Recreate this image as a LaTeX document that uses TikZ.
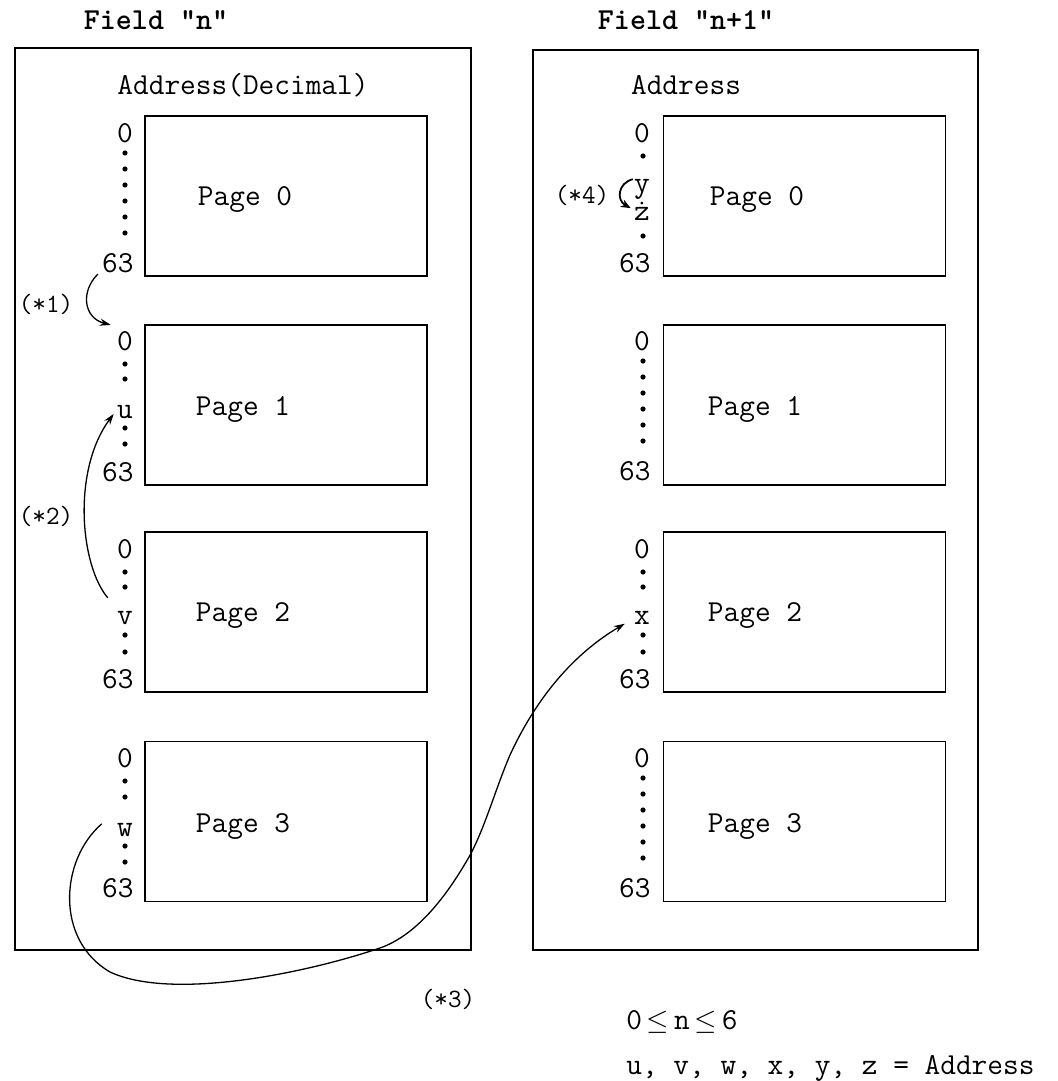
\documentclass[tikz,border=0pt]{standalone}
\usetikzlibrary{arrows.meta}
\begin{document}
\begin{tikzpicture}[x=0.5pt,y=-0.5pt,
  txt/.style={font=\fontsize{15.24}{18}\selectfont\ttfamily, inner sep=0pt, anchor=mid, yshift=-2.5pt},
  smalltxt/.style={font=\fontsize{13.2}{15}\selectfont\ttfamily, inner sep=0pt, anchor=mid, yshift=-2.5pt},
  titletxt/.style={font=\fontsize{15.24}{18}\selectfont\ttfamily\bfseries, inner sep=0pt, anchor=mid, yshift=-2.5pt},
  addrr/.style={txt, anchor=mid east},
  frame/.style={draw, line width=0.7pt, inner sep=0pt},
  pagebox/.style={draw, line width=0.85pt, minimum width=141pt, minimum height=80pt, inner sep=0pt},
  conn/.style={line width=0.65pt, -{Stealth[length=5.5pt,width=3.6pt]}},
  heavyconn/.style={line width=0.9pt, -{Stealth[length=5pt,width=4pt]}},
]
\useasboundingbox (0,0) rectangle (1057,1081);

% titles
\node[titletxt] (fn)  at (156,20) {Field "n"};
\node[titletxt] (fn1) at (686,20) {Field "n+1"};

% outer frames
\node[frame, minimum width=228pt, minimum height=451pt] (fieldn)  at (243,499) {};
\node[frame, minimum width=222.5pt, minimum height=450pt] (fieldn1) at (755.5,500) {};

\node[txt] (addrdec) at (243,85) {Address(Decimal)};
\node[txt] (addr)    at (686,85) {Address};

% page boxes
\node[pagebox] (lp0) at (286,196) {};
\node[pagebox] (lp1) at (286,405) {};
\node[pagebox] (lp2) at (286,612) {};
\node[pagebox] (lp3) at (286,821.5) {};
\node[pagebox] (rp0) at (804.5,196) {};
\node[pagebox] (rp1) at (804.5,405) {};
\node[pagebox] (rp2) at (804.5,612) {};
\node[pagebox] (rp3) at (804.5,821.5) {};

% page labels
\node[txt] (lt0) at (245,196) {Page 0};
\node[txt] (lt1) at (243,406) {Page 1};
\node[txt] (lt2) at (243,612) {Page 2};
\node[txt] (lt3) at (243,823) {Page 3};
\node[txt] (rt0) at (757,196) {Page 0};
\node[txt] (rt1) at (755,406) {Page 1};
\node[txt] (rt2) at (755,612) {Page 2};
\node[txt] (rt3) at (755,823) {Page 3};

% ---- left address column
\node[txt] (l0a) at (125,133) {0};
\foreach \yy in {153,169,185,201,217,233} \fill (125,\yy) circle[radius=1.3pt];
\node[addrr] (l0b) at (134,263) {63};

\node[txt] (l1a) at (125,341) {0};
\foreach \yy in {364,379,428,444} \fill (125,\yy) circle[radius=1.3pt];
\node[txt] (l1x) at (125,409) {u};
\node[addrr] (l1b) at (134,472) {63};

\node[txt] (l2a) at (125,549) {0};
\foreach \yy in {572,587,635,652} \fill (125,\yy) circle[radius=1.3pt];
\node[txt] (l2x) at (125,615) {v};
\node[addrr] (l2b) at (134,679) {63};

\node[txt] (l3a) at (125,758) {0};
\foreach \yy in {781,797,846,862} \fill (125,\yy) circle[radius=1.3pt];
\node[txt] (l3x) at (125,827) {w};
\node[addrr] (l3b) at (134,888) {63};

% ---- right address column
\node[txt] (r0a) at (642,133) {0};
\foreach \yy in {156,236} \fill (643,\yy) circle[radius=1.3pt];
\node[txt] (r0y) at (642,183) {y};
\node[txt] (r0z) at (642,211) {ż};
\node[addrr] (r0b) at (651,263) {63};

\node[txt] (r1a) at (642,341) {0};
\foreach \yy in {361,377,393,409,425,441} \fill (643,\yy) circle[radius=1.3pt];
\node[addrr] (r1b) at (651,471) {63};

\node[txt] (r2a) at (642,549) {0};
\foreach \yy in {572,587,635,652} \fill (643,\yy) circle[radius=1.3pt];
\node[txt] (r2x) at (642,615) {x};
\node[addrr] (r2b) at (651,679) {63};

\node[txt] (r3a) at (642,758) {0};
\foreach \yy in {778,794,810,826,842,858} \fill (643,\yy) circle[radius=1.3pt];
\node[addrr] (r3b) at (651,888) {63};

% ---- connectors
\node[smalltxt] (n1) at (46,303) {(*1)};
\draw[conn] ([shift={(-4,1)}]l0b.south west) .. controls (80,292) and (84,318) .. ([shift={(-6,-6)}]l1a.north west);

\node[smalltxt] (n2) at (46,515) {(*2)};
\draw[conn] ([shift={(-9,-13)}]l2x.north west) .. controls (80,565) and (72,470) .. ([shift={(-3,-5)}]l1x.south west);

\node[smalltxt] (n3) at (448,998) {(*3)};
\draw[conn] ([shift={(-15,-6)}]l3x.west) .. controls (60,860) and (55,940) .. (110,972)
  .. controls (170,1000) and (300,975) .. (380,948)
  .. controls (420,934) and (450,890) .. (469,857)
  .. controls (485,828) and (495,790) .. (510,755)
  .. controls (540,690) and (580,650) .. ([shift={(-9,-1)}]r2x.south west);

\node[smalltxt] (n4) at (582,194) {(*4)};
\draw[heavyconn] ([shift={(-1,-10)}]r0y.west) .. controls (618,183) and (616,200) .. ([shift={(-3,-3)}]r0z.west);

% ---- notes
\node[txt, anchor=mid west] (cond) at (626,1020) {0$\,\le\,$n$\,\le\,$6};
\node[txt, anchor=mid west] (legend) at (626,1065) {u, v, w, x, y, z = Address};
\end{tikzpicture}
\end{document}
